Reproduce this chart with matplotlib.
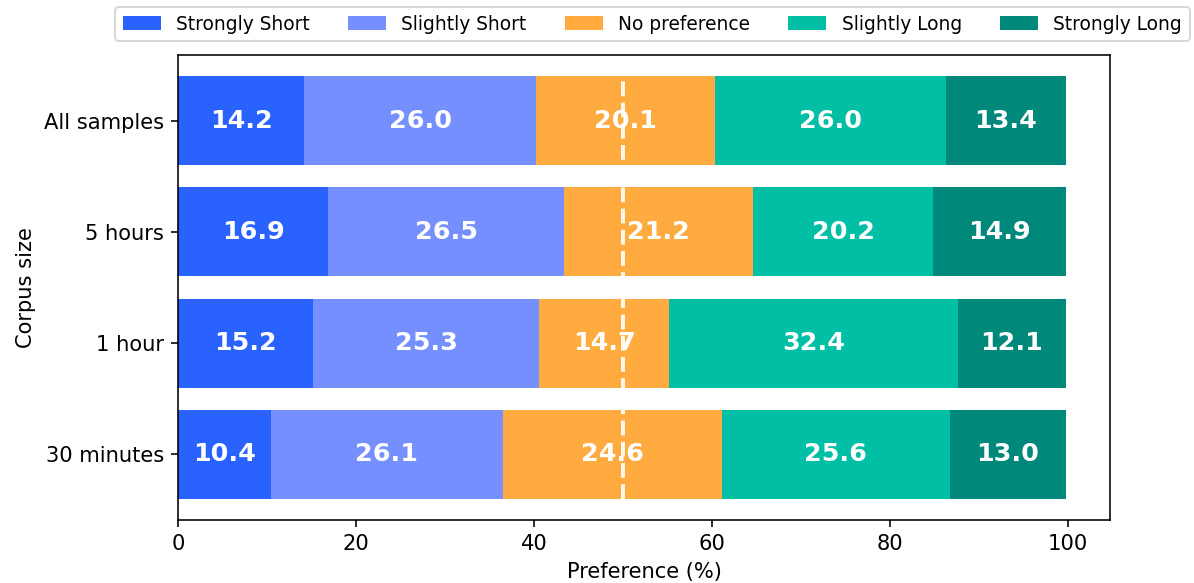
import matplotlib
matplotlib.use("Agg")
import matplotlib.pyplot as plt
import numpy as np

# data
corpus = ['All samples', '5 hours', '1 hour', '30 minutes']
categories = ['Strongly Short', 'Slightly Short', 'No preference', 'Slightly Long', 'Strongly Long']
strongly_short = [14.2, 16.9, 15.2, 10.4]
slightly_short = [26.0, 26.5, 25.3, 26.1]
no_pref = [20.1, 21.2, 14.7, 24.6]
slightly_long = [26.0, 20.2, 32.4, 25.6]
strongly_long = [13.4, 14.9, 12.1, 13.0]

colors = ['#2962ff', '#768fff', '#ffab40', '#00bfa5', '#00897b']
series = [strongly_short, slightly_short, no_pref, slightly_long, strongly_long]

plt.rcParams['font.size'] = 10.5

fig = plt.figure(figsize=(1194 / 144, 583 / 144), dpi=144)
ax = fig.add_axes([178 / 1194, 1 - 520 / 583, (1110 - 178) / 1194, (520 - 55) / 583])

y = np.arange(len(corpus))[::-1]
left = np.zeros(len(corpus))
handles = []
for vals, col, name in zip(series, colors, categories):
    vals = np.array(vals)
    b = ax.barh(y, vals, left=left, color=col, height=0.8, label=name)
    handles.append(b)
    for yi, l, v in zip(y, left, vals):
        ax.text(l + v / 2, yi, '{:.1f}'.format(v), ha='center', va='center',
                color='white', fontsize=12.7, fontweight='bold', zorder=5)
    left += vals

ax.vlines(50, y.min() - 0.4, y.max() + 0.4, colors='white', linestyles='--',
          linewidth=2, alpha=0.9, zorder=3)

ax.set_yticks(y)
ax.set_yticklabels(corpus)
ax.set_xlabel('Preference (%)')
ax.set_ylabel('Corpus size')

fig.legend(handles=handles, loc='center', ncol=5,
           bbox_to_anchor=((117 + 1188) / 2 / 1194, 1 - 24 / 583),
           fontsize=9.3, handlelength=2.05, handletextpad=0.82,
           columnspacing=2.05, frameon=True)

fig.savefig('out.png', dpi=144)
